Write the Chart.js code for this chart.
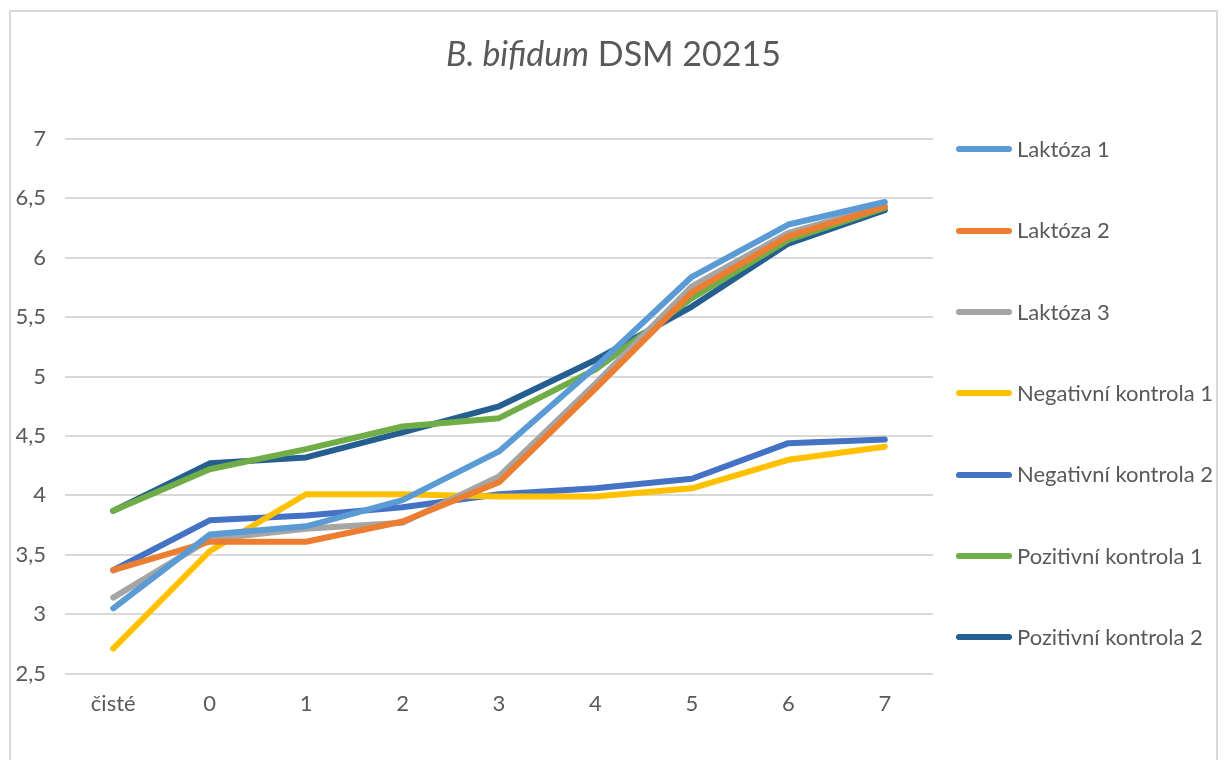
<!DOCTYPE html>
<html>
<head>
<meta charset="utf-8">
<script src="https://cdn.jsdelivr.net/npm/chart.js@4.4.1/dist/chart.umd.min.js"></script>
<style>
  body { margin: 0; background: #fff; font-family: Lato, "Open Sans", sans-serif; color: #595959; }
  #frame { position: absolute; left: 9px; top: 10px; width: 1205px; height: 760px; border: 2px solid #d9d9d9; background: #fff; }
  #title { position: absolute; left: 0; top: 20px; width: 100%; text-align: center; font-size: 34px; }
  #legend { position: absolute; left: 945px; top: 0; }
  .item { position: absolute; left: 0; white-space: nowrap; font-size: 22px; height: 30px; line-height: 30px; }
  .swatch { display: inline-block; width: 56px; height: 6px; border-radius: 3px; vertical-align: middle; margin-right: 5px; position: relative; top: -2px; }
</style>
</head>
<body>
<div id="frame">
  <canvas id="chart" width="1205" height="758"></canvas>
  <div id="title"><i>B. bifidum</i> DSM 20215</div>
  <div id="legend"></div>
</div>
<script>
const days = ['čisté', '0', '1', '2', '3', '4', '5', '6', '7'];

const laktoza1 = [3.05, 3.67, 3.74, 3.96, 4.37, 5.08, 5.84, 6.28, 6.47];
const laktoza2 = [3.37, 3.61, 3.61, 3.78, 4.11, 4.90, 5.71, 6.18, 6.43];
const laktoza3 = [3.14, 3.63, 3.72, 3.77, 4.16, 4.94, 5.76, 6.21, 6.44];
const negativni1 = [2.71, 3.53, 4.01, 4.01, 3.99, 3.99, 4.06, 4.30, 4.41];
const negativni2 = [3.37, 3.79, 3.83, 3.90, 4.01, 4.06, 4.14, 4.44, 4.47];
const pozitivni1 = [3.87, 4.22, 4.39, 4.58, 4.65, 5.06, 5.66, 6.15, 6.42];
const pozitivni2 = [3.87, 4.27, 4.32, 4.53, 4.75, 5.14, 5.59, 6.12, 6.40];

const seriesNames = ['Laktóza 1', 'Laktóza 2', 'Laktóza 3', 'Negativní kontrola 1',
  'Negativní kontrola 2', 'Pozitivní kontrola 1', 'Pozitivní kontrola 2'];
const seriesValues = [laktoza1, laktoza2, laktoza3, negativni1, negativni2, pozitivni1, pozitivni2];
const seriesColors = ['#5b9bd5', '#ed7d31', '#a5a5a5', '#ffc000', '#4472c4', '#70ad47', '#255e91'];

const yMin = 2.5, yMax = 7, yStep = 0.5;

const datasets = seriesNames.map((name, i) => ({
  label: name,
  data: seriesValues[i],
  borderColor: seriesColors[i],
  backgroundColor: seriesColors[i],
  borderWidth: 6,
  borderCapStyle: 'round',
  borderJoinStyle: 'round',
  pointRadius: 0,
  tension: 0
}));

new Chart(document.getElementById('chart').getContext('2d'), {
  type: 'line',
  data: { labels: days, datasets: datasets },
  options: {
    responsive: false,
    animation: false,
    layout: { padding: { top: 127, right: 283, bottom: 44, left: 0 } },
    plugins: {
      legend: { display: false },
      title: { display: false },
      tooltip: { enabled: false }
    },
    scales: {
      x: {
        offset: true,
        grid: { display: false },
        border: { display: false },
        ticks: { color: '#595959', font: { family: 'Lato', size: 22 }, padding: 9 }
      },
      y: {
        min: yMin,
        max: yMax,
        grid: { color: '#d9d9d9', lineWidth: 2, drawTicks: false },
        border: { display: false },
        ticks: {
          stepSize: yStep,
          color: '#595959',
          font: { family: 'Lato', size: 22 },
          padding: 19,
          callback: function (v) { return String(v).replace('.', ','); }
        },
        afterFit: function (s) { s.width = 54; }
      }
    }
  }
});

// legend, built from the same series lists
const legend = document.getElementById('legend');
seriesNames.forEach((name, i) => {
  const el = document.createElement('div');
  el.className = 'item';
  el.style.top = (122 + i * 81.33) + 'px';
  el.innerHTML = '<span class="swatch" style="background:' + seriesColors[i] + '"></span>' + name;
  legend.appendChild(el);
});
</script>
</body>
</html>
